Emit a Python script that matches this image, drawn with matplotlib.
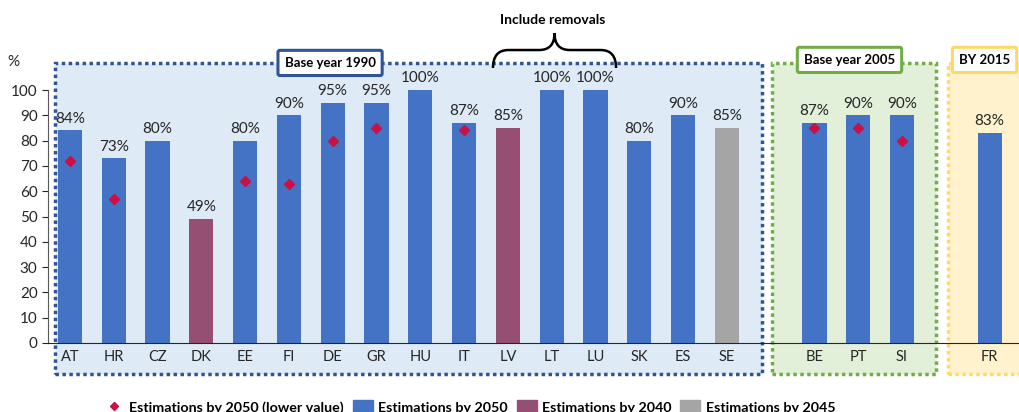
import matplotlib.pyplot as plt
from matplotlib.patches import Rectangle, PathPatch, Patch
from matplotlib.path import Path
from matplotlib.lines import Line2D

plt.rcParams['font.family'] = ['Lato', 'DejaVu Sans']

# Data
countries = ['AT', 'HR', 'CZ', 'DK', 'EE', 'FI', 'DE', 'GR', 'HU', 'IT',
             'LV', 'LT', 'LU', 'SK', 'ES', 'SE', 'BE', 'PT', 'SI', 'FR']
reduction = [84, 73, 80, 49, 80, 90, 95, 95, 100, 87,
             85, 100, 100, 80, 90, 85, 87, 90, 90, 83]
target_year = [2050, 2050, 2050, 2040, 2050, 2050, 2050, 2050, 2050, 2050,
               2040, 2050, 2050, 2050, 2050, 2045, 2050, 2050, 2050, 2050]
lower_countries = ['AT', 'HR', 'EE', 'FI', 'DE', 'GR', 'IT', 'BE', 'PT', 'SI']
lower_values = [72, 57, 64, 63, 80, 85, 84, 85, 85, 80]
group_sizes = [16, 3, 1]   # base year 1990 / 2005 / 2015

COLORS = {2050: '#4472C4', 2040: '#954F72', 2045: '#A5A5A5'}
DIAMOND = '#CC0F45'
TEXT = '#262626'

# x positions: one empty slot between groups
positions = []
start = 0
for n in group_sizes:
    positions += list(range(start, start + n))
    start += n + 1
pos_of = dict(zip(countries, positions))

fig = plt.figure(figsize=(10.19, 4.12), dpi=100)
ax = fig.add_axes([48 / 1019, 69 / 412, 971 / 1019, 253 / 412])
ax.patch.set_alpha(0)

ax.bar(positions, reduction, width=0.55,
       color=[COLORS[y] for y in target_year], zorder=3)
for x, v in zip(positions, reduction):
    ax.text(x, v + 1.8, f'{v}%', ha='center', va='bottom', fontsize=11,
            color=TEXT, zorder=5)

ax.plot([pos_of[c] for c in lower_countries], lower_values, 'D',
        color=DIAMOND, markersize=5.5, zorder=4, linestyle='none')

ax.set_xlim(-0.5, 21.67)
ax.set_ylim(0, 100)
ax.set_yticks(range(0, 101, 10))
ax.set_xticks(positions)
ax.set_xticklabels(countries)
ax.tick_params(axis='x', length=0, labelsize=10.5, colors=TEXT, pad=5)
ax.tick_params(axis='y', length=4, labelsize=11, colors=TEXT, direction='out')
for s in ['top', 'right']:
    ax.spines[s].set_visible(False)
ax.spines['left'].set_color('#595959')
ax.spines['bottom'].set_color('#262626')
ax.spines['bottom'].set_zorder(6)
ax.text(-1.28, 111, '%', fontsize=11, color=TEXT, ha='center', va='center')

# Group boxes (data x, data y, drawn outside the axes)
box_bottom, box_top = -12.3, 110.7
boxes = [(-0.34, 15.8, '#DEEAF6', '#2F5597'),
         (16.03, 19.77, '#E2EFD9', '#70AD47'),
         (20.05, 22.5, '#FFF2CC', '#FFD966')]
for x0, x1, fc, ec in boxes:
    r = Rectangle((x0, box_bottom), x1 - x0, box_top - box_bottom, facecolor=fc,
                  edgecolor=ec, linewidth=2.5, linestyle=(0, (1, 1)),
                  clip_on=False, zorder=0)
    ax.add_patch(r)

labels = [(5.94, 110.7, 'Base year 1990', '#2F5597', 'center'),
          (17.8, 111.9, 'Base year 2005', '#70AD47', 'center'),
          (20.3, 111.9, 'BY 2015', '#FFD966', 'left')]
for x, y, txt, ec, ha in labels:
    ax.text(x, y, txt, ha=ha, va='center', fontsize=9.5, fontweight='bold',
            color='black', zorder=6,
            bbox=dict(boxstyle='round,pad=0.5,rounding_size=0.15', fc='white',
                      ec=ec, lw=2.2))

# Curly brace "Include removals"
xa, xb, yb, ym, yt = 9.66, 12.47, 108.7, 115.8, 122.5
xm = (xa + xb) / 2
verts = [(xa, yb), (xa, ym), (xa + 0.35, ym),
         (xm - 0.35, ym), (xm, ym), (xm, yt),
         (xm, ym), (xm + 0.35, ym),
         (xb - 0.35, ym), (xb, ym), (xb, yb)]
codes = [Path.MOVETO, Path.CURVE3, Path.CURVE3,
         Path.LINETO, Path.CURVE3, Path.CURVE3,
         Path.CURVE3, Path.CURVE3,
         Path.LINETO, Path.CURVE3, Path.CURVE3]
ax.add_patch(PathPatch(Path(verts, codes), fill=False, lw=1.8, ec='black',
                       clip_on=False, zorder=6))
ax.text(xm - 0.05, 127.5, 'Include removals', ha='center', va='center', fontsize=10,
        fontweight='bold', color='black')

handles = [Line2D([], [], marker='D', color=DIAMOND, linestyle='none', markersize=4.5),
           Patch(color=COLORS[2050]), Patch(color=COLORS[2040]), Patch(color=COLORS[2045])]
names = ['Estimations by 2050 (lower value)', 'Estimations by 2050',
         'Estimations by 2040', 'Estimations by 2045']
leg = fig.legend(handles, names, loc='center', bbox_to_anchor=(0.461, 0.012), ncol=4,
                 frameon=False, prop={'size': 10.3, 'weight': 'bold'},
                 handlelength=1.4, handleheight=1.1, columnspacing=0.6, handletextpad=0.4)

plt.savefig('out.png', dpi=100)
